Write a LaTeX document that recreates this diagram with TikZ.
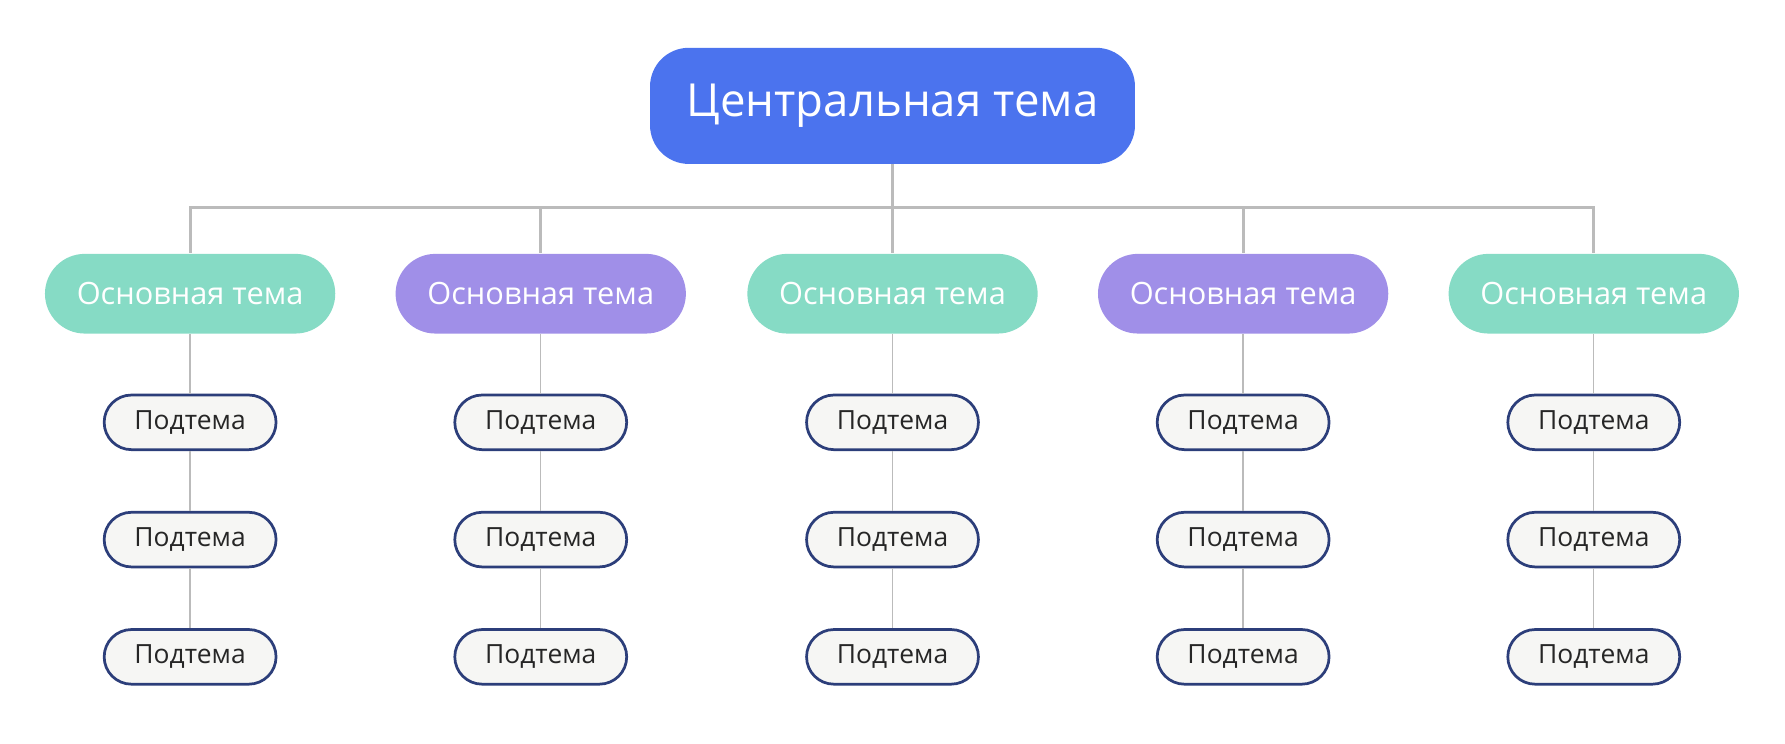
\documentclass[tikz,border=0pt]{standalone}
\usepackage{fontspec}
\setmainfont{Open Sans}
\definecolor{cblue}{HTML}{4B73EE}
\definecolor{cteal}{HTML}{86DBC5}
\definecolor{cpurp}{HTML}{A08FE8}
\definecolor{cline}{HTML}{BBBBBB}
\definecolor{cdark}{HTML}{2C3E7A}
\definecolor{csub}{HTML}{F6F6F4}
\begin{document}
\begin{tikzpicture}[x=0.5pt,y=-0.5pt,
 central/.style={fill=cblue,text=white,rounded corners=17pt,minimum width=213pt,minimum height=51pt,font=\fontsize{20}{24}\selectfont,inner sep=0pt},
 mainbox/.style={text=white,rounded corners=17.5pt,minimum width=127.5pt,minimum height=35pt,font=\fontsize{13.5}{16}\selectfont,inner sep=0pt},
 subbox/.style={draw=cdark,line width=1.2pt,fill=csub,text=black!85,rounded corners=12pt,minimum width=75.5pt,minimum height=24pt,font=\fontsize{11.6}{14}\selectfont,inner sep=0pt},
 conn/.style={draw=cline,line width=1.4pt},
 sconn/.style={draw=cline,line width=0.6pt}]
\useasboundingbox (0,0) rectangle (1568,653);
\node[central] (c) at (784,93) {Центральная тема};
\coordinate (hb) at (784,182);
\foreach \i/\x/\col in {1/167/cteal,2/475/cpurp,3/784/cteal,4/1092/cpurp,5/1400/cteal}{
  \node[mainbox,fill=\col] (m\i) at (\x,258) {Основная тема};
  \node[subbox] (s\i a) at (\x,371) {Подтема};
  \node[subbox] (s\i b) at (\x,474) {Подтема};
  \node[subbox] (s\i c) at (\x,577) {Подтема};
  \draw[sconn] (m\i.south) -- (s\i a.north);
  \draw[sconn] (s\i a.south) -- (s\i b.north);
  \draw[sconn] (s\i b.south) -- (s\i c.north);
  \draw[conn] (hb) -| (m\i.north);
}
\draw[conn] (c.south) -- (hb);
\end{tikzpicture}
\end{document}
